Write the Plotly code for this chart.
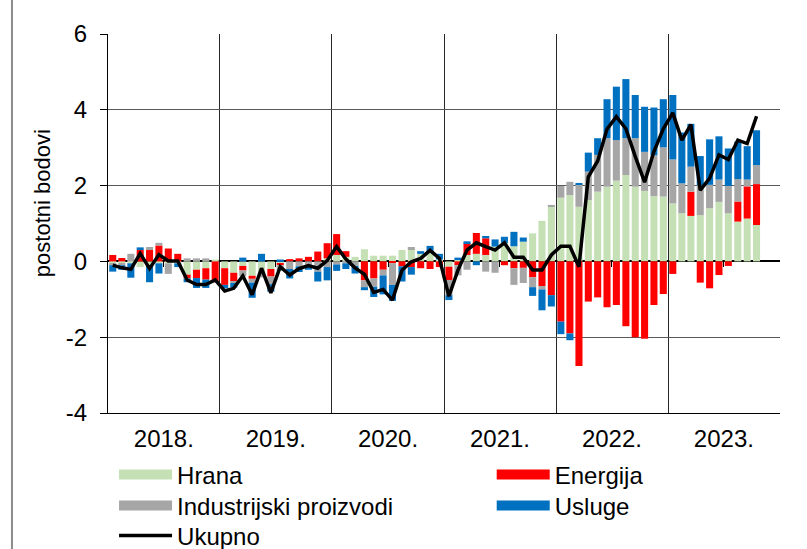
import plotly.graph_objects as go
import pandas as pd

months = pd.date_range("2018-01-01", periods=70, freq="MS").strftime("%Y-%m").tolist()

hrana = [
    -0.05, -0.05, -0.05, -0.15, -0.10, -0.05, -0.05, -0.05, -0.35, -0.22, -0.18, 0.05,
    -0.18, -0.30, -0.12, -0.38, -0.30, -0.20, -0.05, 0.00, 0.00, 0.00, 0.00, 0.08,
    0.17, 0.12, 0.12, 0.32, 0.15, 0.15, 0.15, 0.30, 0.30, 0.20, 0.25, 0.05,
    -0.14, 0.05, 0.17, 0.20, 0.17, 0.39, 0.49, 0.40, 0.52, 0.74, 1.07, 1.44,
    1.68, 1.75, 1.44, 1.62, 1.84, 1.97, 2.13, 2.28, 1.97, 1.86, 1.72, 1.71,
    1.53, 1.27, 1.20, 1.22, 1.40, 1.57, 1.27, 1.05, 1.13, 0.96]
energija = [
    0.17, 0.09, 0.00, 0.30, 0.30, 0.42, 0.34, 0.20, -0.10, -0.22, -0.30, -0.55,
    -0.44, -0.22, -0.12, -0.08, 0.00, -0.20, -0.05, 0.06, 0.08, 0.12, 0.26, 0.40,
    0.55, 0.15, 0.00, -0.50, -0.45, -0.22, -0.05, -0.13, -0.15, -0.18, -0.20, -0.15,
    -0.35, -0.10, 0.31, 0.55, 0.44, 0.00, -0.10, -0.18, -0.17, -0.42, -0.65, -0.89,
    -1.59, -1.90, -2.76, -1.06, -0.95, -1.21, -1.15, -1.71, -2.00, -2.04, -1.15, -0.86,
    -0.33, 0.00, 0.64, -0.56, -0.71, -0.36, -0.12, 0.53, 0.85, 1.08]
industrijski = [
    -0.05, -0.05, 0.20, 0.00, 0.08, 0.07, -0.28, 0.00, 0.08, 0.08, 0.08, 0.00,
    0.00, -0.05, -0.15, -0.10, -0.12, -0.20, -0.15, -0.20, -0.13, -0.10, -0.27, -0.15,
    -0.08, -0.05, -0.12, -0.18, -0.22, -0.15, -0.57, 0.00, 0.08, 0.00, 0.00, 0.00,
    -0.40, -0.27, -0.22, 0.00, -0.27, -0.30, 0.00, -0.44, -0.40, -0.26, -0.09, 0.05,
    0.31, 0.35, 0.59, 0.75, 0.97, 1.28, 1.07, 0.97, 1.28, 1.03, 1.08, 1.30,
    1.16, 0.79, 0.66, 0.79, 0.62, 0.59, 0.72, 0.59, 0.18, 0.50]
usluge = [
    -0.17, -0.12, -0.38, 0.07, -0.45, -0.27, 0.00, -0.10, -0.10, -0.26, -0.22, 0.00,
    -0.09, -0.12, 0.10, -0.40, 0.20, -0.20, 0.05, -0.25, -0.15, -0.12, -0.26, -0.35,
    -0.17, -0.15, -0.20, -0.08, -0.27, -0.50, -0.42, -0.40, -0.20, 0.07, 0.16, 0.15,
    -0.13, 0.05, 0.05, -0.10, 0.06, 0.19, 0.16, 0.38, 0.11, -0.23, -0.55, -0.30,
    -0.33, -0.18, 0.04, 0.50, 0.44, 1.03, 1.41, 1.56, 1.14, 1.19, 1.26, 1.27,
    1.70, 1.34, 1.13, 0.77, 1.20, 1.14, 0.99, 0.99, 0.88, 0.92]
ukupno = [
    -0.10, -0.17, -0.21, 0.21, -0.19, 0.18, 0.01, 0.01, -0.49, -0.61, -0.61, -0.49,
    -0.78, -0.71, -0.38, -0.88, -0.18, -0.83, -0.14, -0.36, -0.19, -0.11, -0.18, 0.02,
    0.39, 0.06, -0.17, -0.34, -0.82, -0.74, -1.02, -0.23, -0.01, 0.08, 0.29, 0.08,
    -0.92, -0.23, 0.30, 0.49, 0.39, 0.30, 0.49, 0.11, 0.11, -0.23, -0.23, 0.17,
    0.40, 0.40, -0.14, 2.23, 2.65, 3.49, 3.82, 3.50, 2.77, 2.09, 2.90, 3.50,
    3.92, 3.20, 3.61, 1.88, 2.19, 2.81, 2.69, 3.20, 3.11, 3.83]

year_labels = ["2018.", "2019.", "2020.", "2021.", "2022.", "2023."]
year_mid = ["2018-07-02", "2019-07-02", "2020-07-02", "2021-07-02", "2022-07-02", "2023-07-02"]
year_bounds = ["2018-01-01", "2019-01-01", "2020-01-01", "2021-01-01",
               "2022-01-01", "2023-01-01", "2024-01-01"]
y_ticks = [-4, -2, 0, 2, 4, 6]
y_ticktext = ["-4", "-2", "0", "2", "4", "6"]

# name, values, colour, legend id
series = [
    ("Hrana", hrana, "#C5E0B4", "legend"),
    ("Energija", energija, "#FF0000", "legend2"),
    ("Industrijski proizvodi", industrijski, "#A6A6A6", "legend3"),
    ("Usluge", usluge, "#0070C0", "legend4"),
]

FONT = "Liberation Sans, Arial, sans-serif"
FS = 24
fig = go.Figure()
for name, vals, col, _ in series:
    fig.add_trace(go.Bar(x=months, y=vals, name=name, marker_color=col,
                         marker_line_width=0, xperiod="M1",
                         xperiodalignment="middle", showlegend=False))
# legend entries (wide colour swatches)
for name, vals, col, lg in series:
    fig.add_trace(go.Scatter(x=[None], y=[None], mode="lines", name=name,
                             line=dict(color=col, width=13), legend=lg,
                             hoverinfo="skip"))
fig.add_trace(go.Scatter(x=months, y=ukupno, name="Ukupno", mode="lines",
                         line=dict(color="black", width=3.5),
                         xperiod="M1", xperiodalignment="middle", legend="legend5"))
# invisible helper trace so the zero-line tick axis is drawn
fig.add_trace(go.Scatter(x=[year_mid[0]], y=[0], xaxis="x2", mode="markers",
                         marker=dict(opacity=0), showlegend=False, hoverinfo="skip"))


def leg(x, y):
    return dict(x=x, y=y, xanchor="left", yanchor="top", orientation="v",
                itemwidth=53, tracegroupgap=0, bgcolor="rgba(0,0,0,0)",
                font=dict(size=FS))


fig.update_layout(
    width=807, height=549,
    margin=dict(l=108, r=27, t=34, b=136, autoexpand=False),
    paper_bgcolor="white", plot_bgcolor="white",
    barmode="relative", bargap=0.22,
    font=dict(family=FONT, size=FS, color="black"),
    showlegend=True,
    legend=leg(0.009, -0.1037),
    legend2=leg(0.571, -0.1037),
    legend3=leg(0.009, -0.1855),
    legend4=leg(0.571, -0.1855),
    legend5=leg(0.009, -0.2647),
    xaxis=dict(
        type="date", range=["2018-01-01", "2024-01-01"],
        tickmode="array", tickvals=year_mid, ticktext=year_labels,
        ticks="", showgrid=False, showline=True, linecolor="black",
        linewidth=1, tickfont=dict(size=FS), ticklabelstandoff=4,
        minor=dict(tickmode="array", tickvals=year_bounds, showgrid=True,
                   gridcolor="#262626", gridwidth=1, ticks=""),
    ),
    xaxis2=dict(
        type="date", overlaying="x", matches="x", anchor="free", position=0.4,
        range=["2018-01-01", "2024-01-01"], side="bottom",
        tickmode="array", tickvals=year_mid, ticks="outside", ticklen=5,
        tickcolor="black", showticklabels=False, showgrid=False,
        showline=False, zeroline=False,
    ),
    yaxis=dict(
        range=[-4, 6], tickmode="array", tickvals=y_ticks, ticktext=y_ticktext,
        showgrid=True, gridcolor="#595959", gridwidth=1,
        zeroline=True, zerolinecolor="black", zerolinewidth=1.5,
        showline=True, linecolor="black", linewidth=1,
        ticks="outside", ticklen=7, tickcolor="black",
        tickfont=dict(size=FS), ticklabelstandoff=8,
    ),
    annotations=[dict(text="postotni bodovi", xref="paper", yref="paper",
                      x=-0.098, y=0.554, textangle=-90, showarrow=False,
                      font=dict(size=22), xanchor="center", yanchor="middle")],
    shapes=[dict(type="line", xref="paper", yref="paper",
                 x0=-0.1429, x1=-0.1429, y0=-0.36, y1=1.09,
                 line=dict(color="#8C8C8C", width=2))],
)

fig.write_html("out.html", config={"displayModeBar": False},
               post_script="document.body.style.margin='0';document.body.style.padding='0';")
